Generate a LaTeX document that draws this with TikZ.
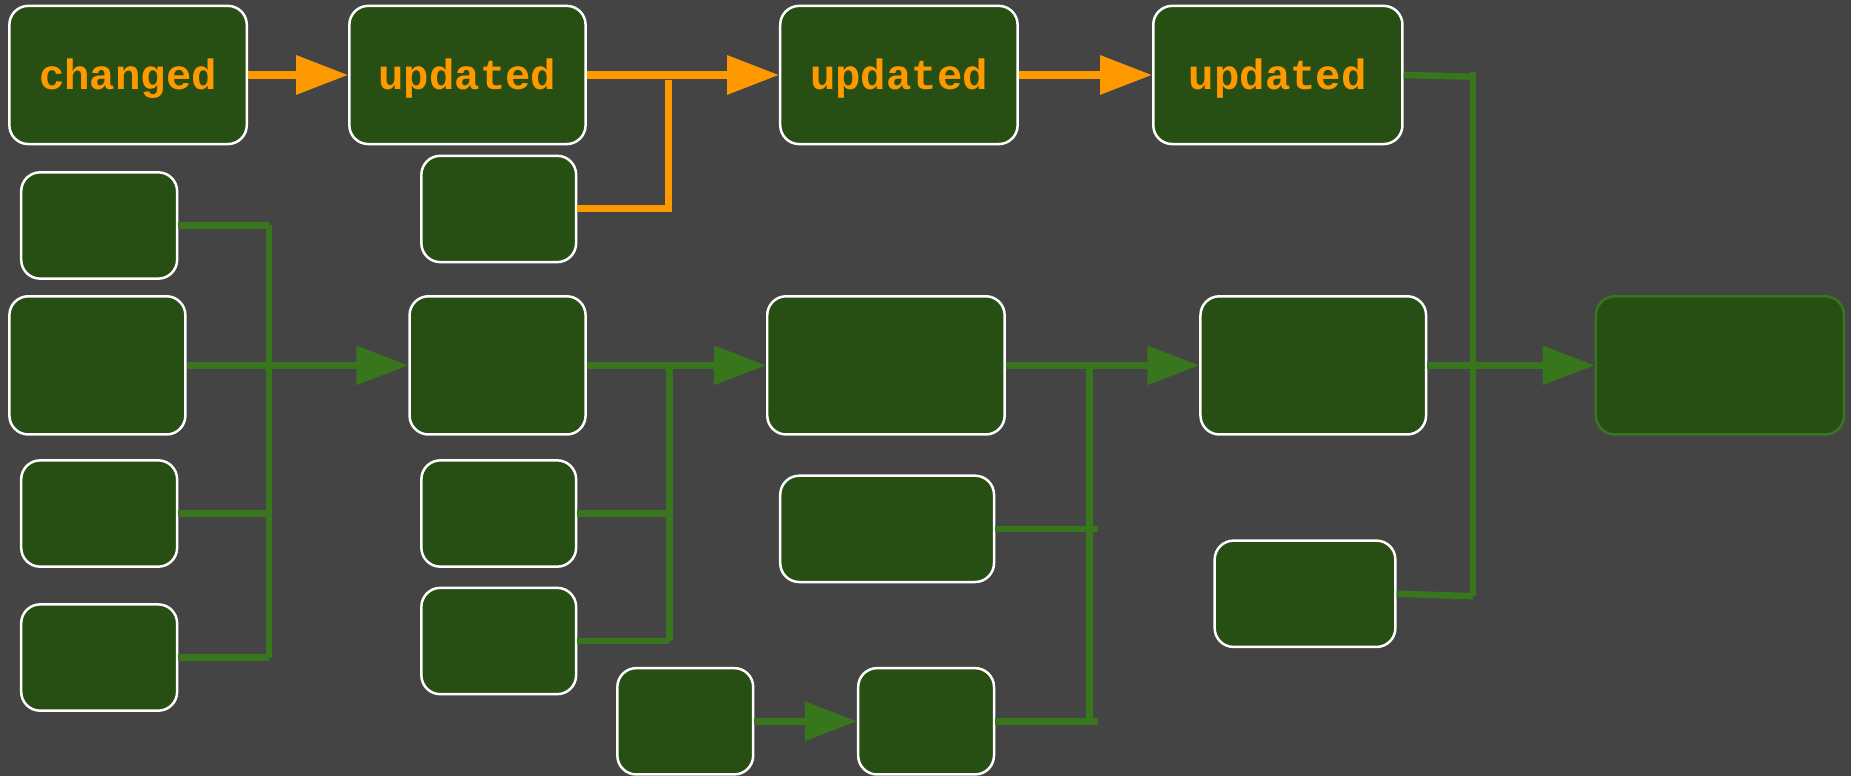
\documentclass[tikz,border=0pt]{standalone}
\usepackage{fontspec}
\setmonofont{Liberation Mono}
\usetikzlibrary{arrows.meta}
\definecolor{bg}{HTML}{444444}
\definecolor{boxg}{HTML}{274E13}
\definecolor{lineg}{HTML}{38761D}
\definecolor{org}{HTML}{FF9900}
\begin{document}
\begin{tikzpicture}[x=0.01cm,y=-0.01cm,
 box/.style={draw=white, line width=0.6pt, fill=boxg, rounded corners=0.16cm, inner sep=0pt},
 lastbox/.style={box, draw=lineg},
 lbl/.style={text=org, font=\ttfamily\bfseries\fontsize{10.2}{12}\selectfont, text height=0.3cm, text depth=0.05cm},
 oline/.style={draw=org, line width=0.06cm},
 gline/.style={draw=lineg, line width=0.055cm},
 tip/.style={-{Triangle[length=0.44cm,width=0.32cm]}}
]
\fill[bg] (0,0) rectangle (1568,657);
\useasboundingbox (0,0) rectangle (1568,657);

% top row
\node[box, lbl, minimum width=2.01cm, minimum height=1.17cm] (chg) at (108.5,63.5) {changed};
\node[box, lbl, minimum width=2.00cm, minimum height=1.17cm] (up1) at (396,63.5) {updated};
\node[box, lbl, minimum width=2.01cm, minimum height=1.17cm] (up2) at (761.5,63.5) {updated};
\node[box, lbl, minimum width=2.11cm, minimum height=1.17cm] (up3) at (1082.5,63.5) {updated};
\node[box, minimum width=1.31cm, minimum height=0.90cm] (so) at (422.5,177) {};

% left column
\node[box, minimum width=1.32cm, minimum height=0.90cm] (L1) at (84,191) {};
\node[box, minimum width=1.49cm, minimum height=1.17cm] (A) at (82.5,309.5) {};
\node[box, minimum width=1.32cm, minimum height=0.90cm] (L3) at (84,435) {};
\node[box, minimum width=1.32cm, minimum height=0.90cm] (L4) at (84,557) {};

% B column
\node[box, minimum width=1.49cm, minimum height=1.17cm] (B) at (421.5,309.5) {};
\node[box, minimum width=1.31cm, minimum height=0.90cm] (B2) at (422.5,435) {};
\node[box, minimum width=1.31cm, minimum height=0.90cm] (B3) at (422.5,543) {};

% C column
\node[box, minimum width=2.01cm, minimum height=1.17cm] (C) at (750.5,309.5) {};
\node[box, minimum width=1.81cm, minimum height=0.90cm] (C2) at (751.5,448) {};
\node[box, minimum width=1.15cm, minimum height=0.90cm] (C4) at (580.5,611) {};
\node[box, minimum width=1.15cm, minimum height=0.90cm] (C3) at (784.5,611) {};

% D column
\node[box, minimum width=1.91cm, minimum height=1.17cm] (D) at (1112.5,309.5) {};
\node[box, minimum width=1.53cm, minimum height=0.90cm] (D2) at (1105.5,503) {};

% final
\node[lastbox, minimum width=2.10cm, minimum height=1.17cm] (E) at (1457,309.5) {};

% orange connectors
\draw[oline, tip] (chg.east) -- (up1.west);
\draw[oline, tip] (up1.east) -- (up2.west);
\draw[oline, tip] (up2.east) -- (up3.west);
\coordinate (oj) at (566,68);
\draw[oline] (so.east) -- (so.east -| oj) -- (oj);

% left tree
\coordinate (lt) at (228,190);
\draw[gline] (L1.east) -- (lt |- L1.east);
\draw[gline] (L3.east) -- (lt |- L3.east);
\draw[gline] (L4.east) -- (lt |- L4.east);
\draw[gline] (lt |- L1.east) -- (lt |- L4.east);
\draw[gline, tip] (A.east) -- (B.west);

% B tree
\coordinate (bt) at (567,312);
\draw[gline] (B2.east) -- (bt |- B2.east);
\draw[gline] (B3.east) -- (bt |- B3.east);
\draw[gline] (bt) -- (bt |- B3.east);
\draw[gline, tip] (B.east) -- (C.west);

% C tree
\coordinate (ct) at (923,312);
\coordinate (cx) at (930,312);
\draw[gline] (C2.east) -- (cx |- C2.east);
\draw[gline] (C3.east) -- (cx |- C3.east);
\draw[gline] (ct) -- (ct |- C3.east);
\draw[gline, tip] (C4.east) -- (C3.west);
\draw[gline, tip] (C.east) -- (D.west);

% D tree
\coordinate (dt) at (1248,65);
\coordinate (db) at (1248,505);
\draw[gline] (up3.east) -- (dt);
\draw[gline] (1248,61) -- (db);
\draw[gline] (D2.east) -- (db);
\draw[gline, tip] (D.east) -- (E.west);
\end{tikzpicture}
\end{document}
